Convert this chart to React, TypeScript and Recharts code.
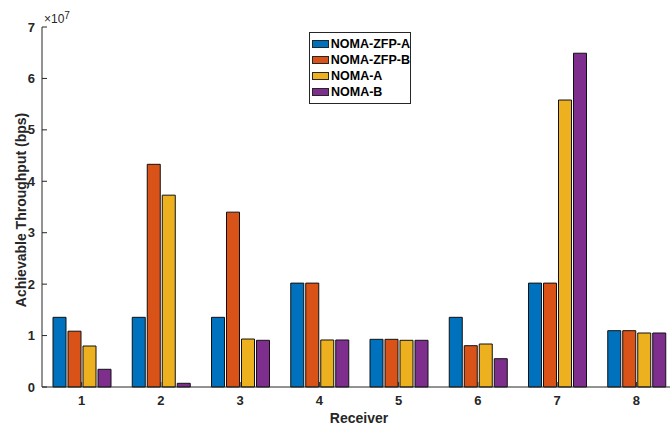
import React from 'react';
import { BarChart, Bar, XAxis, YAxis, Legend } from 'recharts';

const categories = ['1', '2', '3', '4', '5', '6', '7', '8'];
const zfpA = [1.355e7, 1.355e7, 1.355e7, 2.02e7, 0.927e7, 1.355e7, 2.02e7, 1.095e7];
const zfpB = [1.085e7, 4.33e7, 3.4e7, 2.02e7, 0.927e7, 0.803e7, 2.02e7, 1.095e7];
const nomaA = [0.797e7, 3.73e7, 0.933e7, 0.914e7, 0.908e7, 0.836e7, 5.58e7, 1.05e7];
const nomaB = [0.344e7, 0.072e7, 0.908e7, 0.914e7, 0.908e7, 0.55e7, 6.49e7, 1.05e7];
const yTicks = [0, 1e7, 2e7, 3e7, 4e7, 5e7, 6e7, 7e7];
const seriesNames = ['NOMA-ZFP-A', 'NOMA-ZFP-B', 'NOMA-A', 'NOMA-B'];
const seriesColors = ['#0072BD', '#D95319', '#EDB120', '#7E2F8E'];

const data = categories.map((name, i) => ({
  name,
  a: zfpA[i],
  b: zfpB[i],
  c: nomaA[i],
  d: nomaB[i],
}));

const FONT = '"Liberation Sans", Arial, Helvetica, sans-serif';
const AX = '#262626';

const BottomTick = (props: any) => {
  const { x, y, payload } = props;
  return (
    <g>
      <line x1={x} y1={y} x2={x} y2={y - 5} stroke={AX} strokeWidth={1} />
      <text x={x} y={y + 18} textAnchor="middle" fontFamily={FONT} fontWeight="bold" fontSize={13} fill={AX}>
        {payload.value}
      </text>
    </g>
  );
};

const TopTick = (props: any) => {
  const { x, y } = props;
  return <line x1={x} y1={y} x2={x} y2={y + 5} stroke={AX} strokeWidth={1} />;
};

const LeftTick = (props: any) => {
  const { x, y, payload } = props;
  return (
    <g>
      <line x1={x} y1={y} x2={x + 5} y2={y} stroke={AX} strokeWidth={1} />
      <text x={x - 7} y={y + 4.5} textAnchor="end" fontFamily={FONT} fontWeight="bold" fontSize={13} fill={AX}>
        {Math.round(payload.value / 1e7)}
      </text>
    </g>
  );
};

const LegendBox = (props: any) => {
  const payload = [...(props.payload || [])].sort(
    (p: any, q: any) => seriesNames.indexOf(p.value) - seriesNames.indexOf(q.value)
  );
  return (
    <div
      style={{
        border: `1px solid ${AX}`,
        background: '#fff',
        width: 102,
        padding: '3px 0 3px 2px',
        fontFamily: FONT,
        fontWeight: 'bold',
        fontSize: 12.5,
        color: '#000',
        boxSizing: 'border-box',
      }}
    >
      {payload.map((p: any, i: number) => (
        <div key={i} style={{ display: 'flex', alignItems: 'center', height: 16, whiteSpace: 'nowrap' }}>
          <span
            style={{
              display: 'inline-block',
              width: 17,
              height: 8,
              background: p.color,
              border: `1px solid ${AX}`,
              boxSizing: 'border-box',
              marginRight: 2,
            }}
          />
          <span>{p.value}</span>
        </div>
      ))}
    </div>
  );
};

const YLabel = (props: any) => {
  const { viewBox } = props;
  const cx = viewBox.x + 21;
  const cy = viewBox.y + viewBox.height / 2 + 3;
  return (
    <text
      x={cx}
      y={cy}
      transform={`rotate(-90, ${cx}, ${cy})`}
      textAnchor="middle"
      dominantBaseline="central"
      fontFamily={FONT}
      fontWeight="bold"
      fontSize={14}
      fill={AX}
    >
      Achievable Throughput (bps)
    </text>
  );
};

const XLabel = (props: any) => {
  const { viewBox } = props;
  return (
    <text
      x={viewBox.x + viewBox.width / 2}
      y={viewBox.y + 36}
      textAnchor="middle"
      fontFamily={FONT}
      fontWeight="bold"
      fontSize={14}
      fill={AX}
    >
      Receiver
    </text>
  );
};

export default function App() {
  const keys = ['a', 'b', 'c', 'd'];
  return (
    <div style={{ position: 'absolute', left: 0, top: 0, width: 670, height: 432, overflow: 'hidden', background: '#fff' }}>
      <BarChart
        width={700}
        height={432}
        data={data}
        margin={{ top: 27, right: 24, bottom: 0, left: 0 }}
        barCategoryGap={11}
        barGap={2}
      >
        <XAxis
          dataKey="name"
          height={45}
          axisLine={{ stroke: AX, strokeWidth: 1 }}
          tickLine={false}
          tickSize={0}
          tickMargin={0}
          tick={<BottomTick />}
          interval={0}
          label={<XLabel />}
        />
        <XAxis
          xAxisId="top"
          orientation="top"
          dataKey="name"
          height={0}
          axisLine={{ stroke: AX, strokeWidth: 1 }}
          tickLine={false}
          tickSize={0}
          tickMargin={0}
          tick={<TopTick />}
          interval={0}
        />
        <YAxis
          width={42}
          domain={[0, 7e7]}
          ticks={yTicks}
          type="number"
          axisLine={{ stroke: AX, strokeWidth: 1 }}
          tickLine={false}
          tickSize={0}
          tickMargin={0}
          tick={<LeftTick />}
          interval={0}
          label={<YLabel />}
        />
        <Legend
          layout="horizontal"
          verticalAlign="middle"
          align="center"
          content={<LegendBox />}
          wrapperStyle={{ left: 309, top: 32, width: 102, height: 64 }}
        />
        {keys.map((k, i) => (
          <Bar
            key={k}
            dataKey={k}
            name={seriesNames[i]}
            fill={seriesColors[i]}
            stroke="#111"
            strokeWidth={1}
            isAnimationActive={false}
          />
        ))}
      </BarChart>
      <div
        style={{
          position: 'absolute',
          left: 44,
          top: 12,
          fontFamily: FONT,
          fontSize: 12,
          color: AX,
          lineHeight: '14px',
        }}
      >
        ×10<sup style={{ fontSize: 10, verticalAlign: 'top', position: 'relative', top: -3 }}>7</sup>
      </div>
    </div>
  );
}
